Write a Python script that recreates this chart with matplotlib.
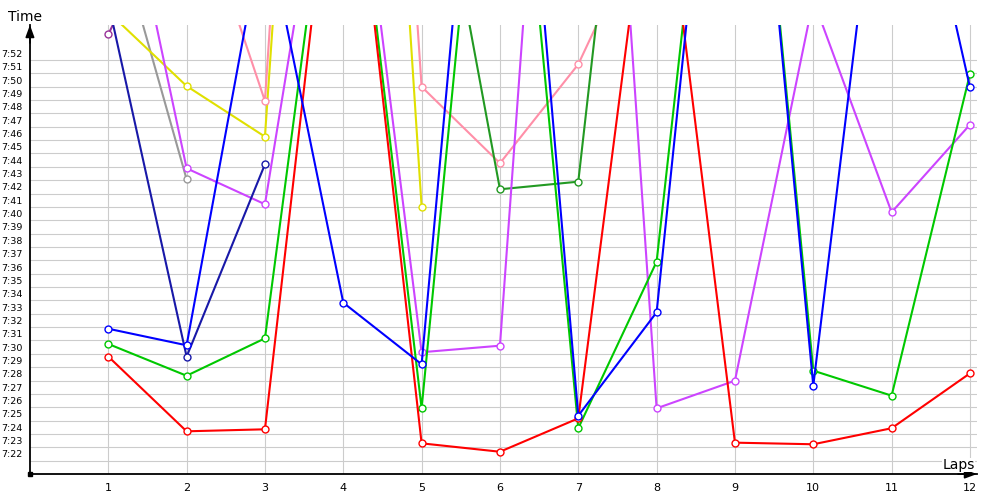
import numpy as np
import matplotlib
matplotlib.use("Agg")
import matplotlib.pyplot as plt
from matplotlib.transforms import blended_transform_factory, offset_copy

nan = np.nan
laps = list(range(1, 13))

# lap times in seconds (7:22 = 442 s); values above 7:54 run off the top of the chart
red = [449.8, 444.2, 444.35, 495.5, 443.3, 442.67, 445.17, 490.7, 443.35, 443.23, 444.43, 448.54]
green = [450.74, 448.36, 451.16, 495.6, 445.92, 506.3, 444.43, 456.9, 509.7, 448.74, 446.87, 470.95]
blue = [451.88, 450.64, 482.5, 453.83, 449.22, 513.6, 445.37, 453.11, 509.8, 447.62, 495.9, 469.96]
navy = [476.3, 449.79, 464.19, nan, nan, nan, nan, nan, nan, nan, nan, nan]
yellow = [475.6, 470.05, 466.26, 551.4, 461.02, nan, nan, nan, nan, nan, nan, nan]
gray = [483.8, 463.07, nan, nan, nan, nan, nan, nan, nan, nan, nan, nan]
violet = [491.6, 463.89, 461.2, 497.2, 450.12, 450.61, 531.9, 445.92, 447.99, 476.5, 460.6, 467.16]
pink = [nan, 486.4, 468.93, 558.1, 470.0, 464.27, 471.68, 484.2, nan, nan, nan, nan]
darkgreen = [nan, nan, nan, nan, 494.0, 462.32, 462.89, 514.8, nan, nan, nan, nan]
purple = [473.92, 486.0, nan, nan, nan, nan, nan, nan, nan, nan, nan, nan]

series = [
    (gray, "#999999"),
    (yellow, "#E0E000"),
    (pink, "#FF8FA8"),
    (darkgreen, "#229922"),
    (purple, "#993399"),
    (violet, "#CC44FF"),
    (navy, "#1818A8"),
    (green, "#00C800"),
    (red, "#FF0000"),
    (blue, "#0000FF"),
]

ytick_secs = list(range(442, 473))
ytick_labels = ["7:%02d" % (s - 420) for s in ytick_secs]

fig = plt.figure(figsize=(10, 5), dpi=100)
left, right = 0.02994, 0.977
bottom, top = 0.0519, 0.95
ax = fig.add_axes([left, bottom, right - left, top - bottom])
ax.set_xlim(0, 12.09)
ax.set_ylim(441, 474.62)

for vals, col in series:
    ax.plot(laps, vals, color=col, lw=1.5, marker="o", ms=5, mfc="white",
            mec=col, mew=1.0, solid_joinstyle="miter", zorder=3)

ax.set_xticks(laps)
ax.set_xticklabels([str(l) for l in laps], fontsize=8)
ax.set_yticks(ytick_secs)
ax.set_yticklabels([])
ax.tick_params(axis="both", length=0)
ax.tick_params(axis="x", pad=6.5)
ax.grid(True, color="#CCCCCC", lw=0.8, zorder=0)
ax.set_axisbelow(True)

for s in ["top", "right"]:
    ax.spines[s].set_visible(False)
for s in ["left", "bottom"]:
    ax.spines[s].set_color("black")
    ax.spines[s].set_linewidth(1.3)

trans = blended_transform_factory(ax.transAxes, ax.transData)
trans = offset_copy(trans, fig=fig, x=-7.3, y=5.7, units="dots")
for s, lab in zip(ytick_secs, ytick_labels):
    ax.text(0, s, lab, transform=trans, ha="right", va="center", fontsize=6.8,
            color="black", clip_on=False)

arrow = dict(arrowstyle="-|>,head_length=0.6,head_width=0.22", color="black",
             lw=1.2, mutation_scale=12, shrinkA=0, shrinkB=0)
ax.annotate("", xy=(0, 1.0), xytext=(0, 0.96), xycoords="axes fraction",
            arrowprops=arrow, annotation_clip=False)
ax.annotate("", xy=(1.0, 0), xytext=(0.98, 0), xycoords="axes fraction",
            arrowprops=arrow, annotation_clip=False)
ax.plot([0], [441], marker="s", color="black", ms=2.5, clip_on=False, zorder=5)

fig.text(25.3 / 1000, 1 - 20.7 / 500, "Time", ha="center", va="baseline",
         fontsize=10, color="black")
fig.text(0.975, 1 - 469 / 500, "Laps", ha="right", va="baseline", fontsize=10,
         color="black", bbox=dict(facecolor="white", edgecolor="none", pad=0.3))

fig.savefig("out.png", dpi=100)
